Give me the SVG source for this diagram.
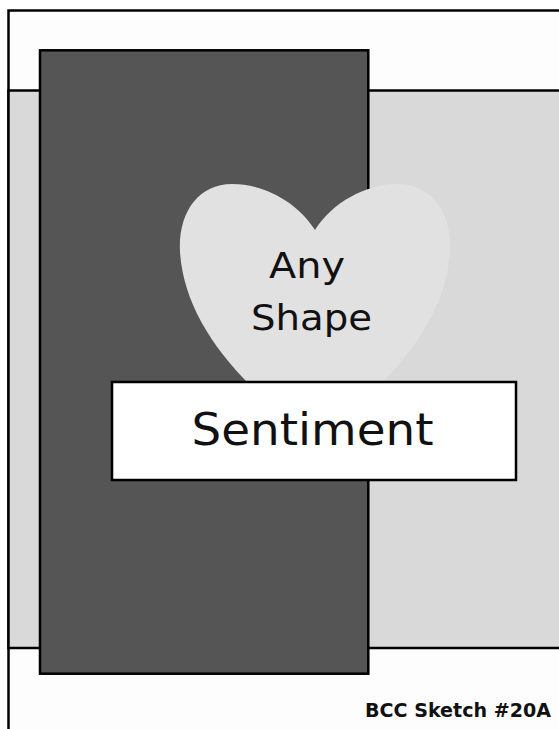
<svg xmlns="http://www.w3.org/2000/svg" width="559" height="729" viewBox="0 0 559 729">
  <style>
    .edge { stroke: #000; stroke-width: 2.5; }
    .txt { font-family: "DejaVu Sans", "Liberation Sans", sans-serif; fill: #111; }
  </style>
  <rect x="0" y="0" width="559" height="729" fill="#ffffff"/>
  <g id="card">
    <rect x="8.5" y="10.5" width="570" height="740" fill="#fdfdfd" class="edge"/>
  </g>
  <g id="band">
    <rect x="8.5" y="90.5" width="570" height="557.5" fill="#d9d9d9" class="edge"/>
  </g>
  <g id="panel">
    <rect x="40" y="50.3" width="328.3" height="623.4" fill="#555555" class="edge"/>
  </g>
  <g id="heart">
    <path d="M315 230 C298 203 265 184 232 184 C198 184 178 213 180 252 C183 300 210 345 250 385 C275 410 300 435 315 455 C330 435 355 410 380 385 C420 345 447 300 450 252 C452 213 432 184 398 184 C365 184 332 203 315 230 Z" fill="#e1e1e1"/>
    <text class="txt" x="269" y="278" font-size="36" textLength="76" lengthAdjust="spacingAndGlyphs">Any</text>
    <text class="txt" x="251" y="330" font-size="36" textLength="121" lengthAdjust="spacingAndGlyphs">Shape</text>
  </g>
  <g id="sentiment">
    <rect x="112" y="382" width="404" height="98" fill="#ffffff" class="edge"/>
    <text class="txt" x="191.5" y="445" font-size="45" textLength="242" lengthAdjust="spacingAndGlyphs">Sentiment</text>
  </g>
  <g id="label">
    <text class="txt" x="365" y="717.3" font-size="19.5" font-weight="bold" textLength="186" lengthAdjust="spacingAndGlyphs">BCC Sketch #20A</text>
  </g>
</svg>
